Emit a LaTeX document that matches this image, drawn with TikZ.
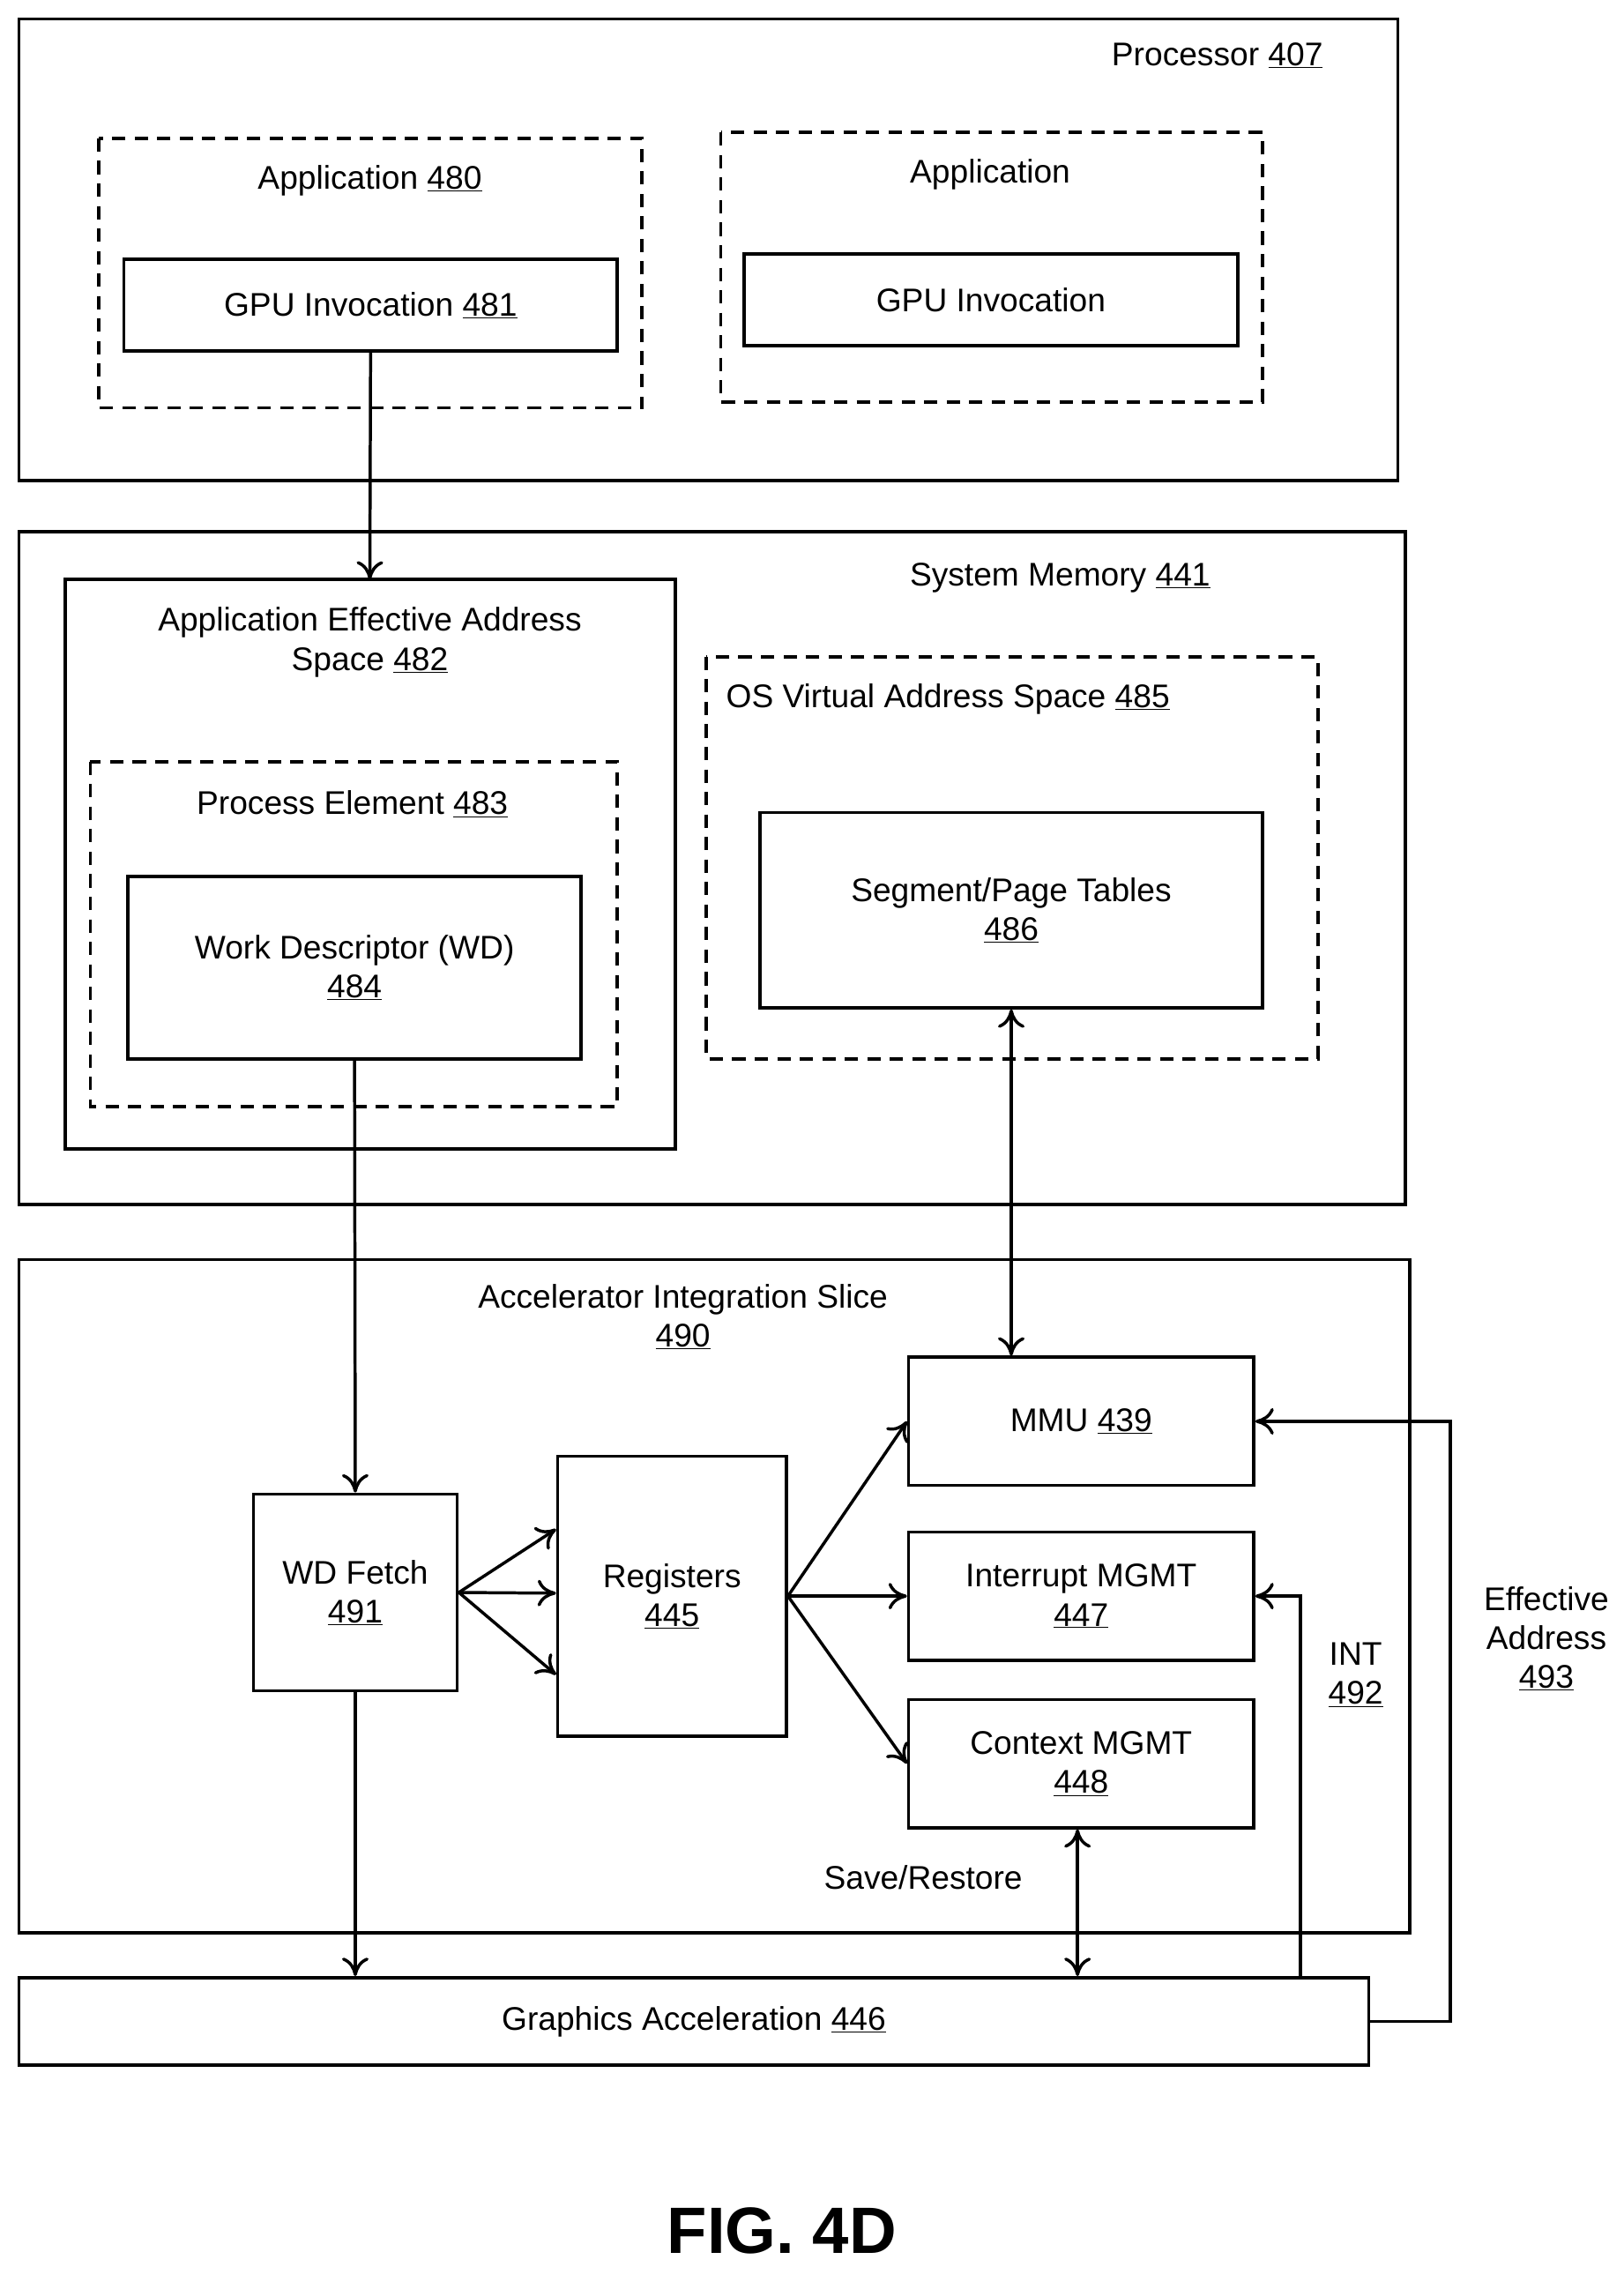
\documentclass[tikz,border=0pt]{standalone}
\usepackage{fontspec}
\setmainfont{Liberation Sans}
\usetikzlibrary{arrows.meta}
\begin{document}
\begin{tikzpicture}[x=0.05cm,y=-0.05cm,
  box/.style={draw, line width=3.2pt},
  dbox/.style={draw, line width=3.2pt, dash pattern=on 13pt off 9pt},
  lbl/.style={font=\fontsize{32}{38}\selectfont, align=center},
  conn/.style={line width=3pt, -{To[length=18pt,width=26pt]}},
  dconn/.style={line width=3pt, {To[length=18pt,width=26pt]}-{To[length=18pt,width=26pt]}}]
\useasboundingbox (0,0) rectangle (1115,1567);
% processor
\draw[box] (13,13) rectangle (960,330);
\node[lbl] (proclbl) at (836,38) {Processor \underline{407}};
\draw[dbox] (68,95) rectangle (441,280);
\node[lbl] (applbl) at (254,124) {Application \underline{480}};
\node[box, lbl, minimum width=339*0.05cm, minimum height=63*0.05cm] (gpu) at (254.5,209.5) {GPU Invocation \underline{481}};
\draw[dbox] (495,91) rectangle (867,276);
\node[lbl] (applbltwo) at (680,120) {Application};
\node[box, lbl, minimum width=339*0.05cm, minimum height=63*0.05cm] (gputwo) at (680.5,206) {GPU Invocation};
% system memory
\draw[box] (13,365) rectangle (965,827);
\node[lbl] (memlbl) at (728,397) {System Memory \underline{441}};
\draw[box] (45,398) rectangle (464,789);
\coordinate (aeastop) at (254,398);
\node[lbl] (aeaslbl) at (254,441) {Application Effective Address\\Space \underline{482}};
\draw[dbox] (62,523) rectangle (424,760);
\node[lbl] (pelbl) at (242,552) {Process Element \underline{483}};
\node[box, lbl, minimum width=311*0.05cm, minimum height=125*0.05cm] (wd) at (243.5,664.5) {Work Descriptor (WD)\\\underline{484}};
\draw[dbox] (485,451) rectangle (905,727);
\node[lbl] (oslbl) at (651,480) {OS Virtual Address Space \underline{485}};
\node[box, lbl, minimum width=345*0.05cm, minimum height=134*0.05cm] (seg) at (694.5,625) {Segment/Page Tables\\\underline{486}};
% accelerator integration slice
\draw[box] (13,865) rectangle (968,1327);
\node[lbl] (aislbl) at (469,904) {Accelerator Integration Slice\\\underline{490}};
\node[box, lbl, minimum width=237*0.05cm, minimum height=88*0.05cm] (mmu) at (742.5,976) {MMU \underline{439}};
\node[box, lbl, minimum width=237*0.05cm, minimum height=88*0.05cm] (intr) at (742.5,1096) {Interrupt MGMT\\\underline{447}};
\node[box, lbl, minimum width=237*0.05cm, minimum height=88*0.05cm] (ctx) at (742.5,1211) {Context MGMT\\\underline{448}};
\node[box, lbl, minimum width=140*0.05cm, minimum height=135*0.05cm] (fetch) at (244,1093.5) {WD Fetch\\\underline{491}};
\node[box, lbl, minimum width=157*0.05cm, minimum height=192*0.05cm] (reg) at (461.5,1096) {Registers\\\underline{445}};
\node[box, lbl, minimum width=927*0.05cm, minimum height=60*0.05cm] (gfx) at (476.5,1388) {Graphics Acceleration \underline{446}};
\node[lbl] (savelbl) at (634,1289) {Save/Restore};
\node[lbl] (intlbl) at (931,1150) {INT\\\underline{492}};
\node[lbl] (ealbl) at (1062,1125) {Effective\\Address\\\underline{493}};
\node[font=\fontsize{64}{70}\selectfont\bfseries] (fig) at (537,1532) {FIG. 4D};
% connectors
\draw[conn] (gpu.south) -- (aeastop);
\draw[conn] (wd.south) -- (fetch.north);
\draw[dconn] (seg.south) -- (mmu.north -| seg.south);
\draw[conn] (fetch.south) -- (gfx.north -| fetch.south);
\draw[dconn] (ctx.south -| 740,0) -- (gfx.north -| 740,0);
\foreach \y in {1050,1094,1150}
  \draw[conn] (fetch.east) -- (reg.west |- 0,\y);
\foreach \t in {mmu,intr,ctx}
  \draw[conn] (reg.east) -- (\t.west);
\draw[conn] (gfx.north -| 893,0) -- (893,1096) -- (intr.east);
\draw[conn] (gfx.east) -- (996,1388) -- (996,976) -- (mmu.east);
\end{tikzpicture}
\end{document}
